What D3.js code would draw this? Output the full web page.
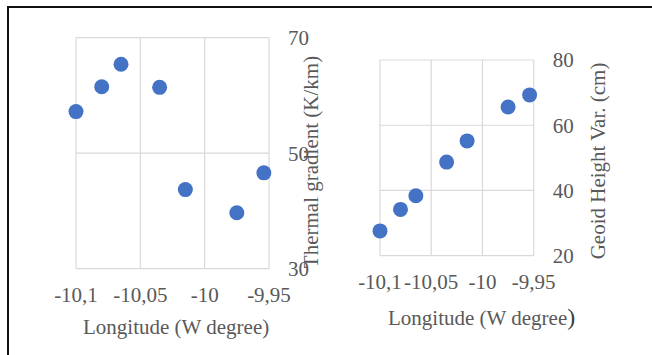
<!DOCTYPE html>
<html><head><meta charset="utf-8">
<script src="https://cdn.jsdelivr.net/npm/d3@7"></script>
<style>html,body{margin:0;padding:0;background:#fff;}svg{display:block;}</style>
</head><body>
<svg id="c" width="652" height="355"></svg>
<script>
// Data
const longitude = [-10.1, -10.08, -10.065, -10.035, -10.015, -9.975, -9.954];
const thermalGradient = [57.2, 61.5, 65.4, 61.4, 43.7, 39.7, 46.6];
const geoidHeight = [27.6, 34.2, 38.4, 48.7, 55.2, 65.6, 69.3];
const xTicks = [-10.1, -10.05, -10, -9.95];
const yTicksLeft = [30, 50, 70];
const yTicksRight = [20, 40, 60, 80];

const svg = d3.select("#c");
const FONT = "'Liberation Serif','Times New Roman',serif";
const TXT = "#595959";

svg.append("path").attr("d","M8,355V7H652").attr("fill","none").attr("stroke","#111").attr("stroke-width",2);

function panel(o){
  const x = d3.scaleLinear().domain([-10.1,-9.95]).range([o.l,o.r]);
  const y = d3.scaleLinear().domain(o.yd).range([o.b,o.t]);
  const g = svg.append("g");
  g.selectAll("line.v").data(xTicks).join("line")
    .attr("x1",d=>x(d)).attr("x2",d=>x(d)).attr("y1",o.t).attr("y2",o.b)
    .attr("stroke","#d9d9d9").attr("stroke-width",1.2);
  g.selectAll("line.h").data(o.yt).join("line")
    .attr("y1",d=>y(d)).attr("y2",d=>y(d)).attr("x1",o.l).attr("x2",o.r)
    .attr("stroke","#d9d9d9").attr("stroke-width",1.2);
  g.selectAll("text.xt").data(xTicks).join("text")
    .attr("x",d=>x(d)).attr("y",o.b+33).attr("text-anchor","middle")
    .attr("font-family",FONT).attr("font-size",21).attr("fill",TXT)
    .text(d=>String(d).replace(".",","));
  g.selectAll("text.yt").data(o.yt).join("text")
    .attr("x",o.r+19).attr("y",d=>y(d)).attr("dy","0.35em")
    .attr("font-family",FONT).attr("font-size",21).attr("fill",TXT)
    .text(d=>d);
  g.selectAll("circle").data(longitude).join("circle")
    .attr("cx",d=>x(d)).attr("cy",(d,i)=>y(o.vals[i])).attr("r",7.5)
    .attr("fill","#4472c4");
  g.append("text").attr("transform",`translate(${o.ytx},${o.yty}) rotate(-90)`)
    .attr("text-anchor","middle").attr("font-family",FONT).attr("font-size",21).attr("fill",TXT)
    .text(o.ytitle);
  const xt = g.append("text").attr("x",o.xtx).attr("y",o.xty)
    .attr("font-family",FONT).attr("font-size",21).attr("fill",TXT);
  if(o.bigParen){
    xt.append("tspan").text("Longitude (W degree");
    xt.append("tspan").attr("font-size",24).attr("fill","#404040").text(")");
  } else xt.text("Longitude (W degree)");
}

panel({l:76,r:269,t:37.7,b:268.7,yd:[30,70],yt:yTicksLeft,vals:thermalGradient,
  ytitle:"Thermal gradient (K/km)",ytx:318,yty:162,xtx:83,xty:334,bigParen:false});
panel({l:380,r:533.7,t:60,b:255.7,yd:[20,80],yt:yTicksRight,vals:geoidHeight,
  ytitle:"Geoid Height Var. (cm)",ytx:605,yty:161,xtx:388,xty:325,bigParen:true});
</script>
</body></html>
